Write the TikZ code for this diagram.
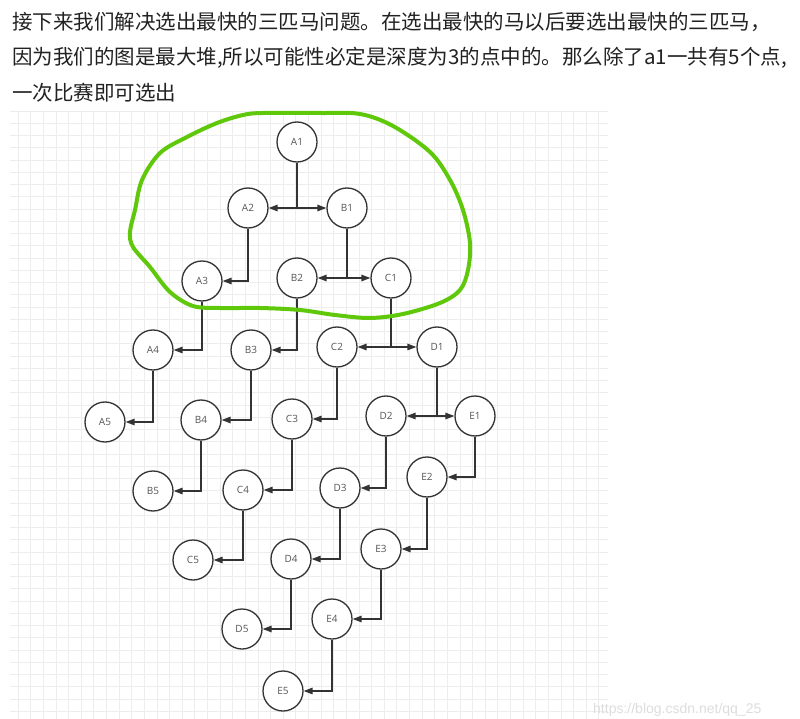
\documentclass[tikz,border=0pt]{standalone}
\usepackage{fontspec}
\setmainfont{Noto Sans CJK SC}
\newfontfamily\labelfont{Open Sans}
\newfontfamily\markfont{Liberation Sans}
\usetikzlibrary{arrows.meta}

\definecolor{inkgray}{HTML}{333333}
\definecolor{labelgray}{HTML}{555555}
\definecolor{textgray}{HTML}{222222}
\definecolor{gridgray}{HTML}{EDEDED}
\definecolor{markgray}{HTML}{DDDDDD}
\definecolor{lassogreen}{HTML}{5FC80A}

\tikzstyle{horse} = [circle, minimum size=40pt, inner sep=0pt, draw=inkgray, line width=1.3pt, fill=white, text=labelgray, font=\labelfont\fontsize{10}{12}\selectfont]
\tikzstyle{race} = [draw=inkgray, line width=1.5pt, -{Triangle[length=9pt,width=6.5pt]}]
\tikzstyle{note} = [anchor=west, inner sep=0pt, text=textgray, font=\fontsize{20.5}{24}\selectfont]
\tikzstyle{gridline} = [draw=gridgray, line width=0.9pt]
\tikzstyle{lasso} = [draw=lassogreen, line width=4pt, line cap=round, line join=round]

\begin{document}
\begin{tikzpicture}[x=1pt, y=-1pt]

	\useasboundingbox (0,0) rectangle (800,719);
	\fill[white] (0,0) rectangle (800,719);

	% background grid
	\begin{scope}
	\clip (10,111) rectangle (608,719);
	\foreach \i in {0,...,48} \draw[gridline] ({5.45+12.626*\i},111) -- ({5.45+12.626*\i},719);
	\foreach \j in {0,...,50} \draw[gridline] (10,{111+12.25*\j}) -- (608,{111+12.25*\j});
	\end{scope}

	\node (line1) [note] at (12,22) {接下来我们解决选出最快的三匹马问题。在选出最快的马以后要选出最快的三匹马，};
	\node (line2) [note] at (12,58) {因为我们的图是最大堆,所以可能性必定是深度为3的点中的。那么除了a1一共有5个点,};
	\node (line3) [note] at (12,93) {一次比赛即可选出};

	\node (A1) [horse] at (297,142) {A1};
	\node (A2) [horse] at (248,208) {A2};
	\node (B1) [horse] at (347,208) {B1};
	\node (A3) [horse] at (202,281) {A3};
	\node (B2) [horse] at (297,278) {B2};
	\node (C1) [horse] at (391,278) {C1};
	\node (A4) [horse] at (153,350) {A4};
	\node (B3) [horse] at (251,350) {B3};
	\node (C2) [horse] at (337,347) {C2};
	\node (D1) [horse] at (437,347) {D1};
	\node (A5) [horse] at (105,422) {A5};
	\node (B4) [horse] at (201,420) {B4};
	\node (C3) [horse] at (292,419) {C3};
	\node (D2) [horse] at (386,416) {D2};
	\node (E1) [horse] at (475,416) {E1};
	\node (B5) [horse] at (153,491) {B5};
	\node (C4) [horse] at (243,490) {C4};
	\node (D3) [horse] at (340,488) {D3};
	\node (E2) [horse] at (427,477) {E2};
	\node (C5) [horse] at (193,560) {C5};
	\node (D4) [horse] at (291,559) {D4};
	\node (E3) [horse] at (381,549) {E3};
	\node (D5) [horse] at (242,629) {D5};
	\node (E4) [horse] at (332,619) {E4};
	\node (E5) [horse] at (283,691) {E5};

	\draw [race] (A1) |- (A2);
	\draw [race] (A1) |- (B1);
	\draw [race] (A2) |- (A3);
	\draw [race] (B1) |- (B2);
	\draw [race] (B1) |- (C1);
	\draw [race] (A3) |- (A4);
	\draw [race] (B2) |- (B3);
	\draw [race] (C1) |- (C2);
	\draw [race] (C1) |- (D1);
	\draw [race] (A4) |- (A5);
	\draw [race] (B3) |- (B4);
	\draw [race] (C2) |- (C3);
	\draw [race] (D1) |- (D2);
	\draw [race] (D1) |- (E1);
	\draw [race] (B4) |- (B5);
	\draw [race] (C3) |- (C4);
	\draw [race] (D2) |- (D3);
	\draw [race] (E1) |- (E2);
	\draw [race] (C4) |- (C5);
	\draw [race] (D3) |- (D4);
	\draw [race] (E2) |- (E3);
	\draw [race] (D4) |- (D5);
	\draw [race] (E3) |- (E4);
	\draw [race] (E4) |- (E5);

	% hand drawn loop round the top three levels
	\draw [lasso] plot [smooth cycle, tension=0.55] coordinates {
		(263,113) (320,113) (360,114) (393,126) (430,152) (450,180) (463,210)
		(470,243) (468,270) (460,290) (440,303) (403,314) (370,318) (335,315)
		(300,310) (260,308) (220,308) (193,306) (170,292) (150,267) (133,247)
		(130,232) (135,210) (142,180) (160,153) (187,137) (217,123) (243,115)};

	\node (mark) [anchor=west, inner sep=0pt, text=markgray, font=\markfont\fontsize{14}{16}\selectfont] at (593,710) {https://blog.csdn.net/qq\_25};

\end{tikzpicture}
\end{document}
